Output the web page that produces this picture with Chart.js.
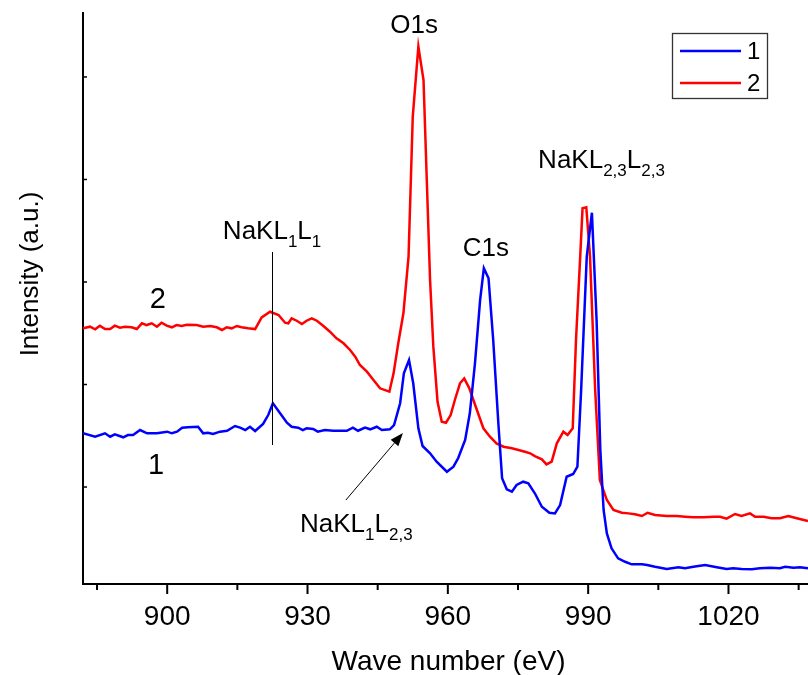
<!DOCTYPE html>
<html>
<head>
<meta charset="utf-8">
<script src="https://cdn.jsdelivr.net/npm/chart.js@4.4.1/dist/chart.umd.min.js"></script>
<style>
  html, body { margin: 0; padding: 0; background: #fff; }
  canvas { display: block; }
</style>
</head>
<body>
<canvas id="myChart" width="808" height="675"></canvas>
<script>
// spectrum 1 (blue)
const energy1 = [882.0, 884.6, 886.7, 887.8, 888.8, 890.6, 891.6, 892.7, 894.2, 895.7,
  897.8, 900.0, 901.0, 902.1, 903.2, 904.4, 906.6, 907.7, 908.7, 909.8,
  911.3, 912.8, 914.5, 915.6, 916.7, 917.7, 918.8, 920.5, 921.6, 922.6,
  924.1, 925.6, 926.6, 928.0, 929.0, 929.8, 931.2, 932.2, 933.7, 935.5,
  938.4, 939.7, 940.8, 942.3, 943.4, 944.8, 945.9, 947.6, 948.5, 949.8,
  950.6, 951.7, 952.6, 953.7, 954.6, 956.2, 957.6, 959.8, 961.2, 962.2,
  963.7, 964.7, 965.8, 966.9, 967.7, 968.7, 969.7, 970.8, 971.6, 972.6,
  973.7, 974.7, 976.1, 977.2, 978.6, 980.1, 981.7, 982.9, 984.0, 985.4,
  986.8, 987.7, 988.5, 989.7, 990.8, 991.8, 992.6, 993.3, 994.0, 995.0,
  996.4, 997.9, 999.3, 1001.5, 1002.6, 1004.3, 1006.8, 1009.3, 1010.7, 1012.5,
  1015.0, 1017.5, 1019.6, 1021.0, 1022.8, 1025.0, 1026.7, 1028.9, 1031.0, 1032.1, 1033.9, 1035.3, 1037.0];
const counts1 = [1524, 1491, 1524, 1491, 1514, 1485, 1507, 1507, 1556, 1524,
  1524, 1540, 1524, 1540, 1579, 1582, 1588, 1524, 1530, 1517,
  1540, 1549, 1595, 1579, 1556, 1588, 1546, 1615, 1702, 1817,
  1722, 1627, 1588, 1579, 1556, 1573, 1566, 1540, 1556, 1549,
  1549, 1579, 1549, 1579, 1563, 1588, 1556, 1563, 1605, 1817,
  2109, 2239, 2012, 1573, 1400, 1329, 1247, 1149, 1198, 1280,
  1459, 1719, 2207, 2824, 3134, 3036, 2434, 1621, 1085, 978,
  954, 1020, 1052, 1036, 939, 808, 749, 743, 824, 1100,
  1127, 1198, 1946, 3247, 3676, 2629, 1361, 776, 548, 402,
  304, 271, 246, 246, 239, 222, 200, 217, 207, 222,
  239, 217, 200, 207, 200, 197, 207, 213, 207, 222, 213, 217, 207];

// spectrum 2 (red)
const energy2 = [882.0, 883.5, 884.6, 885.6, 886.7, 887.8, 888.8, 889.9, 891.0, 892.4,
  893.5, 894.6, 895.6, 896.7, 897.8, 898.8, 899.9, 901.0, 902.0, 903.1,
  904.2, 906.3, 907.7, 909.2, 910.6, 911.7, 912.7, 913.8, 914.9, 915.9,
  917.3, 918.8, 920.2, 922.0, 923.8, 925.2, 925.9, 926.6, 927.7, 928.8,
  929.8, 930.9, 932.0, 933.4, 934.8, 936.2, 937.7, 939.1, 940.2, 941.2,
  942.7, 944.1, 945.5, 947.5, 948.4, 949.4, 950.5, 951.6, 952.5, 953.7,
  954.8, 955.5, 956.2, 956.9, 957.8, 958.7, 959.6, 960.6, 961.5, 962.6,
  963.5, 964.6, 965.8, 967.6, 969.0, 970.4, 971.9, 973.7, 975.1, 976.5,
  977.6, 978.6, 980.1, 981.1, 982.2, 983.3, 984.7, 985.6, 986.7, 987.4,
  988.3, 988.8, 989.6, 990.4, 991.5, 992.5, 994.0, 995.4, 997.2, 998.6,
  1000.0, 1001.5, 1002.7, 1004.3, 1006.8, 1009.0, 1010.7, 1012.5, 1014.7, 1016.8,
  1018.2, 1019.6, 1021.4, 1022.8, 1024.6, 1025.7, 1027.5, 1029.2, 1031.0, 1032.8, 1034.6, 1037.0];
const counts2 = [2548, 2564, 2539, 2574, 2541, 2541, 2574, 2554, 2564, 2558,
  2541, 2597, 2580, 2597, 2564, 2603, 2574, 2558, 2580, 2571,
  2583, 2580, 2564, 2571, 2558, 2532, 2558, 2548, 2571, 2558,
  2548, 2541, 2654, 2710, 2678, 2603, 2597, 2646, 2622, 2590,
  2622, 2646, 2622, 2571, 2515, 2451, 2402, 2337, 2271, 2190,
  2125, 2044, 1963, 1930, 2109, 2402, 2695, 3247, 4613, 5296,
  4970, 3995, 3019, 2369, 1832, 1637, 1627, 1702, 1849, 2012,
  2060, 1963, 1805, 1573, 1491, 1426, 1393, 1378, 1361, 1344,
  1329, 1302, 1270, 1221, 1247, 1426, 1540, 1507, 1573, 2434,
  3247, 3719, 3729, 3247, 1946, 1068, 873, 776, 749, 743,
  734, 717, 749, 727, 717, 717, 710, 704, 704, 710,
  710, 691, 737, 717, 743, 710, 710, 695, 695, 717, 695, 668];

const seriesNames = ['1', '2'];
const seriesColors = ['#0000ff', '#ff0000'];

// axis ticks
const xMajorTicks = [900, 930, 960, 990, 1020];
const xMinorTicks = [885, 915, 945, 975, 1005, 1035];
const yTicks = [1000, 2000, 3000, 4000, 5000];

const FONT = "'Liberation Sans', Arial, sans-serif";

// peak labels, placed in data coordinates (eV, counts)
const peakLabels = [
  { parts: [['O1s', 0]], x: 952.8, y: 5429, align: 'center' },
  { parts: [['C1s', 0]], x: 963.2, y: 3254, align: 'left' },
  { parts: [['NaKL', 0], ['2,3', 1], ['L', 0], ['2,3', 1]], x: 979.3, y: 4112, align: 'left' },
  { parts: [['NaKL', 0], ['1', 1], ['L', 0], ['1', 1]], x: 911.9, y: 3419, align: 'left' },
  { parts: [['NaKL', 0], ['1', 1], ['L', 0], ['2,3', 1]], x: 928.4, y: 561, align: 'left' }
];
const curveTags = [
  { text: '2', x: 898.0, y: 2824 },
  { text: '1', x: 897.6, y: 1205 }
];
const markerLine = { x: 922.5, y1: 3293, y2: 1410 };
const arrow = { x1: 938.2, y1: 873, x2: 950.4, y2: 1527 };

function drawParts(ctx, parts, x, y, align) {
  const mainFont = '26px ' + FONT, subFont = '17px ' + FONT;
  let w = 0;
  parts.forEach(([t, sub]) => { ctx.font = sub ? subFont : mainFont; w += ctx.measureText(t).width; });
  let cx = align === 'center' ? x - w / 2 : x;
  ctx.textAlign = 'left';
  ctx.textBaseline = 'alphabetic';
  parts.forEach(([t, sub]) => {
    ctx.font = sub ? subFont : mainFont;
    ctx.fillText(t, cx, sub ? y + 8 : y);
    cx += ctx.measureText(t).width;
  });
}

const decor = {
  id: 'decor',
  afterDraw(chart) {
    const { ctx, chartArea: area, scales: { x, y } } = chart;
    ctx.save();
    ctx.strokeStyle = '#000';
    ctx.fillStyle = '#000';

    // x tick marks, outward
    ctx.lineWidth = 2;
    x.ticks.forEach(t => {
      const px = x.getPixelForValue(t.value);
      const len = xMajorTicks.includes(t.value) ? 10 : 6;
      ctx.beginPath();
      ctx.moveTo(px, area.bottom);
      ctx.lineTo(px, area.bottom + len);
      ctx.stroke();
    });
    // y tick marks, inward
    ctx.lineWidth = 1.5;
    yTicks.forEach(v => {
      const py = y.getPixelForValue(v);
      ctx.beginPath();
      ctx.moveTo(area.left, py);
      ctx.lineTo(area.left + 4, py);
      ctx.stroke();
    });

    // axis titles
    ctx.font = '28px ' + FONT;
    ctx.textAlign = 'center';
    ctx.textBaseline = 'alphabetic';
    ctx.fillText('Wave number (eV)', (area.left + area.right) / 2 + 3, 670);
    ctx.save();
    ctx.translate(38, 274);
    ctx.rotate(-Math.PI / 2);
    ctx.font = '26px ' + FONT;
    ctx.fillText('Intensity (a.u.)', 0, 0);
    ctx.restore();

    // peak labels
    peakLabels.forEach(l => drawParts(ctx, l.parts, x.getPixelForValue(l.x), y.getPixelForValue(l.y), l.align));

    // curve numbers
    ctx.font = '29px ' + FONT;
    ctx.textAlign = 'center';
    ctx.textBaseline = 'middle';
    curveTags.forEach(t => ctx.fillText(t.text, x.getPixelForValue(t.x), y.getPixelForValue(t.y)));

    // marker line under NaKL1L1
    ctx.lineWidth = 1;
    const mx = Math.round(x.getPixelForValue(markerLine.x)) + 0.5;
    ctx.beginPath();
    ctx.moveTo(mx, y.getPixelForValue(markerLine.y1));
    ctx.lineTo(mx, y.getPixelForValue(markerLine.y2));
    ctx.stroke();

    // arrow to NaKL1L2,3
    const ax1 = x.getPixelForValue(arrow.x1), ay1 = y.getPixelForValue(arrow.y1);
    const ax2 = x.getPixelForValue(arrow.x2), ay2 = y.getPixelForValue(arrow.y2);
    const ang = Math.atan2(ay2 - ay1, ax2 - ax1);
    const hl = 13, hw = 5;
    const bx = ax2 - hl * Math.cos(ang), by = ay2 - hl * Math.sin(ang);
    ctx.beginPath();
    ctx.moveTo(ax1, ay1);
    ctx.lineTo(bx, by);
    ctx.stroke();
    ctx.beginPath();
    ctx.moveTo(ax2, ay2);
    ctx.lineTo(bx + hw * Math.sin(ang), by - hw * Math.cos(ang));
    ctx.lineTo(bx - hw * Math.sin(ang), by + hw * Math.cos(ang));
    ctx.closePath();
    ctx.fill();

    // legend box
    const lx = 672, ly = 33, lw = 95, lh = 65;
    ctx.lineWidth = 1.3;
    ctx.strokeStyle = '#333';
    ctx.strokeRect(lx + 0.5, ly + 0.5, lw, lh);
    ctx.font = '24px ' + FONT;
    ctx.textAlign = 'left';
    ctx.textBaseline = 'middle';
    chart.data.datasets.forEach((ds, i) => {
      const ry = ly + 18 + i * 32;
      ctx.strokeStyle = ds.borderColor;
      ctx.lineWidth = 2.5;
      ctx.beginPath();
      ctx.moveTo(680, ry);
      ctx.lineTo(741, ry);
      ctx.stroke();
      ctx.fillStyle = '#000';
      ctx.fillText(ds.label, 747, ry + 1);
    });
    ctx.restore();
  }
};

const ctx = document.getElementById('myChart');

new Chart(ctx, {
  type: 'line',
  data: {
    datasets: [
      {
        label: seriesNames[0],
        data: energy1.map((e, i) => ({ x: e, y: counts1[i] })),
        borderColor: seriesColors[0],
        borderWidth: 2.5,
        pointRadius: 0,
        pointHitRadius: 0,
        tension: 0
      },
      {
        label: seriesNames[1],
        data: energy2.map((e, i) => ({ x: e, y: counts2[i] })),
        borderColor: seriesColors[1],
        borderWidth: 2.5,
        pointRadius: 0,
        pointHitRadius: 0,
        tension: 0
      }
    ]
  },
  options: {
    responsive: false,
    animation: false,
    devicePixelRatio: 1,
    layout: { autoPadding: false, padding: { top: 13, right: 0, left: 0, bottom: 0 } },
    plugins: {
      legend: { display: false },
      tooltip: { enabled: false }
    },
    scales: {
      x: {
        type: 'linear',
        min: 882,
        max: 1037,
        grid: { display: false },
        border: { display: true, color: '#000', width: 2 },
        afterBuildTicks: scale => {
          scale.ticks = [...xMajorTicks, ...xMinorTicks].sort((a, b) => a - b).map(v => ({ value: v }));
        },
        afterFit: scale => {
          scale.height = 91;
          scale.paddingLeft = 0;
          scale.paddingRight = 0;
        },
        ticks: {
          autoSkip: false,
          maxRotation: 0,
          padding: 8,
          color: '#000',
          font: { family: FONT, size: 28 },
          callback: v => xMajorTicks.includes(v) ? String(v) : ''
        }
      },
      y: {
        min: 54,
        max: 5624,
        grid: { display: false },
        border: { display: true, color: '#000', width: 2 },
        afterBuildTicks: scale => { scale.ticks = yTicks.map(v => ({ value: v })); },
        afterFit: scale => {
          scale.width = 83;
          scale.paddingTop = 0;
          scale.paddingBottom = 0;
        },
        ticks: { display: false }
      }
    }
  },
  plugins: [decor]
});
</script>
</body>
</html>
